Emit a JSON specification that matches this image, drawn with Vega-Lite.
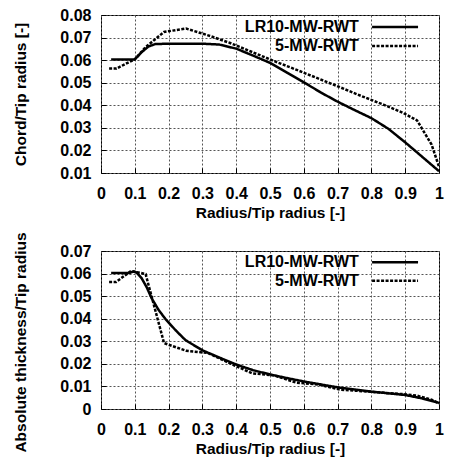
{
  "$schema": "https://vega.github.io/schema/vega-lite/v6.json",
  "padding": {"left": 13, "top": 6, "right": 3, "bottom": 5},
  "bounds": "flush",
  "spacing": 78,
  "datasets": {
    "chord": [
      {"r": 0.03, "v": 0.0603, "series": "LR10-MW-RWT"},
      {"r": 0.1, "v": 0.0603, "series": "LR10-MW-RWT"},
      {"r": 0.12, "v": 0.0635, "series": "LR10-MW-RWT"},
      {"r": 0.14, "v": 0.066, "series": "LR10-MW-RWT"},
      {"r": 0.16, "v": 0.0671, "series": "LR10-MW-RWT"},
      {"r": 0.2, "v": 0.0673, "series": "LR10-MW-RWT"},
      {"r": 0.3, "v": 0.0673, "series": "LR10-MW-RWT"},
      {"r": 0.35, "v": 0.0669, "series": "LR10-MW-RWT"},
      {"r": 0.4, "v": 0.0651, "series": "LR10-MW-RWT"},
      {"r": 0.45, "v": 0.062, "series": "LR10-MW-RWT"},
      {"r": 0.5, "v": 0.0588, "series": "LR10-MW-RWT"},
      {"r": 0.55, "v": 0.0545, "series": "LR10-MW-RWT"},
      {"r": 0.6, "v": 0.0502, "series": "LR10-MW-RWT"},
      {"r": 0.65, "v": 0.0457, "series": "LR10-MW-RWT"},
      {"r": 0.7, "v": 0.0416, "series": "LR10-MW-RWT"},
      {"r": 0.75, "v": 0.0379, "series": "LR10-MW-RWT"},
      {"r": 0.8, "v": 0.0343, "series": "LR10-MW-RWT"},
      {"r": 0.85, "v": 0.0296, "series": "LR10-MW-RWT"},
      {"r": 0.9, "v": 0.0236, "series": "LR10-MW-RWT"},
      {"r": 0.95, "v": 0.0172, "series": "LR10-MW-RWT"},
      {"r": 1.0, "v": 0.0108, "series": "LR10-MW-RWT"},
      {"r": 0.024, "v": 0.0563, "series": "5-MW-RWT"},
      {"r": 0.046, "v": 0.0563, "series": "5-MW-RWT"},
      {"r": 0.1, "v": 0.0604, "series": "5-MW-RWT"},
      {"r": 0.1323, "v": 0.0658, "series": "5-MW-RWT"},
      {"r": 0.1865, "v": 0.0725, "series": "5-MW-RWT"},
      {"r": 0.2516, "v": 0.074, "series": "5-MW-RWT"},
      {"r": 0.3167, "v": 0.071, "series": "5-MW-RWT"},
      {"r": 0.382, "v": 0.0676, "series": "5-MW-RWT"},
      {"r": 0.447, "v": 0.0636, "series": "5-MW-RWT"},
      {"r": 0.512, "v": 0.0596, "series": "5-MW-RWT"},
      {"r": 0.577, "v": 0.0558, "series": "5-MW-RWT"},
      {"r": 0.642, "v": 0.0519, "series": "5-MW-RWT"},
      {"r": 0.707, "v": 0.048, "series": "5-MW-RWT"},
      {"r": 0.772, "v": 0.044, "series": "5-MW-RWT"},
      {"r": 0.837, "v": 0.0402, "series": "5-MW-RWT"},
      {"r": 0.8915, "v": 0.0368, "series": "5-MW-RWT"},
      {"r": 0.935, "v": 0.0333, "series": "5-MW-RWT"},
      {"r": 0.978, "v": 0.0226, "series": "5-MW-RWT"},
      {"r": 1.0, "v": 0.0128, "series": "5-MW-RWT"}
    ],
    "thick": [
      {"r": 0.03, "v": 0.0603, "series": "LR10-MW-RWT"},
      {"r": 0.085, "v": 0.0603, "series": "LR10-MW-RWT"},
      {"r": 0.095, "v": 0.0609, "series": "LR10-MW-RWT"},
      {"r": 0.105, "v": 0.0605, "series": "LR10-MW-RWT"},
      {"r": 0.12, "v": 0.058, "series": "LR10-MW-RWT"},
      {"r": 0.135, "v": 0.054, "series": "LR10-MW-RWT"},
      {"r": 0.15, "v": 0.049, "series": "LR10-MW-RWT"},
      {"r": 0.17, "v": 0.044, "series": "LR10-MW-RWT"},
      {"r": 0.19, "v": 0.04, "series": "LR10-MW-RWT"},
      {"r": 0.22, "v": 0.035, "series": "LR10-MW-RWT"},
      {"r": 0.25, "v": 0.0305, "series": "LR10-MW-RWT"},
      {"r": 0.3, "v": 0.026, "series": "LR10-MW-RWT"},
      {"r": 0.35, "v": 0.0228, "series": "LR10-MW-RWT"},
      {"r": 0.4, "v": 0.0197, "series": "LR10-MW-RWT"},
      {"r": 0.45, "v": 0.0172, "series": "LR10-MW-RWT"},
      {"r": 0.5, "v": 0.0153, "series": "LR10-MW-RWT"},
      {"r": 0.55, "v": 0.0137, "series": "LR10-MW-RWT"},
      {"r": 0.6, "v": 0.0122, "series": "LR10-MW-RWT"},
      {"r": 0.7, "v": 0.0096, "series": "LR10-MW-RWT"},
      {"r": 0.8, "v": 0.0077, "series": "LR10-MW-RWT"},
      {"r": 0.9, "v": 0.0062, "series": "LR10-MW-RWT"},
      {"r": 0.95, "v": 0.0047, "series": "LR10-MW-RWT"},
      {"r": 1.0, "v": 0.0027, "series": "LR10-MW-RWT"},
      {"r": 0.024, "v": 0.0563, "series": "5-MW-RWT"},
      {"r": 0.045, "v": 0.0563, "series": "5-MW-RWT"},
      {"r": 0.089, "v": 0.0612, "series": "5-MW-RWT"},
      {"r": 0.132, "v": 0.0598, "series": "5-MW-RWT"},
      {"r": 0.1865, "v": 0.0292, "series": "5-MW-RWT"},
      {"r": 0.2516, "v": 0.0258, "series": "5-MW-RWT"},
      {"r": 0.3167, "v": 0.0248, "series": "5-MW-RWT"},
      {"r": 0.382, "v": 0.0202, "series": "5-MW-RWT"},
      {"r": 0.447, "v": 0.0158, "series": "5-MW-RWT"},
      {"r": 0.512, "v": 0.0149, "series": "5-MW-RWT"},
      {"r": 0.577, "v": 0.0117, "series": "5-MW-RWT"},
      {"r": 0.642, "v": 0.0109, "series": "5-MW-RWT"},
      {"r": 0.707, "v": 0.0086, "series": "5-MW-RWT"},
      {"r": 0.772, "v": 0.0079, "series": "5-MW-RWT"},
      {"r": 0.837, "v": 0.0072, "series": "5-MW-RWT"},
      {"r": 0.8915, "v": 0.0066, "series": "5-MW-RWT"},
      {"r": 0.935, "v": 0.0059, "series": "5-MW-RWT"},
      {"r": 0.978, "v": 0.0041, "series": "5-MW-RWT"},
      {"r": 1.0, "v": 0.0025, "series": "5-MW-RWT"}
    ]
  },
  "vconcat": [
    {
      "width": 338,
      "height": 158,
      "layer": [
        {
          "data": {"name": "chord"},
          "mark": {"type": "line", "strokeWidth": 2.5, "clip": true, "color": "#000000"},
          "encoding": {
            "x": {"field": "r", "type": "quantitative", "scale": {"domain": [0, 1], "nice": false},
                  "axis": {"title": "Radius/Tip radius [-]", "values": [0, 0.1, 0.2, 0.3, 0.4, 0.5, 0.6, 0.7, 0.8, 0.9, 1], "format": ".1~f"}},
            "y": {"field": "v", "type": "quantitative", "scale": {"domain": [0.01, 0.08], "nice": false, "zero": false},
                  "axis": {"title": "Chord/Tip radius [-]", "values": [0.01, 0.02, 0.03, 0.04, 0.05, 0.06, 0.07, 0.08], "format": ".2~f"}},
            "strokeDash": {"field": "series", "type": "nominal", "scale": {"domain": ["LR10-MW-RWT", "5-MW-RWT"], "range": [[1, 0], [3, 1.5]]}, "legend": null}
          }
        },
        {
          "data": {"values": [{}]},
          "mark": {"type": "text", "align": "right", "baseline": "middle", "font": "Liberation Sans", "fontWeight": "bold", "fontSize": 16, "color": "#000000"},
          "encoding": {
            "x": {"datum": 0.763, "type": "quantitative", "axis": {"title": "Radius/Tip radius [-]", "values": [0, 0.1, 0.2, 0.3, 0.4, 0.5, 0.6, 0.7, 0.8, 0.9, 1], "format": ".1~f"}},
            "y": {"datum": 0.0747, "type": "quantitative", "axis": {"title": "Chord/Tip radius [-]", "values": [0.01, 0.02, 0.03, 0.04, 0.05, 0.06, 0.07, 0.08], "format": ".2~f"}},
            "text": {"value": "LR10-MW-RWT"}
          }
        },
        {
          "data": {"values": [{}]},
          "mark": {"type": "text", "align": "right", "baseline": "middle", "font": "Liberation Sans", "fontWeight": "bold", "fontSize": 16, "color": "#000000"},
          "encoding": {
            "x": {"datum": 0.763, "type": "quantitative", "axis": {"title": "Radius/Tip radius [-]", "values": [0, 0.1, 0.2, 0.3, 0.4, 0.5, 0.6, 0.7, 0.8, 0.9, 1], "format": ".1~f"}},
            "y": {"datum": 0.0663, "type": "quantitative", "axis": {"title": "Chord/Tip radius [-]", "values": [0.01, 0.02, 0.03, 0.04, 0.05, 0.06, 0.07, 0.08], "format": ".2~f"}},
            "text": {"value": "5-MW-RWT"}
          }
        },
        {
          "data": {"values": [{}]},
          "mark": {"type": "rule", "strokeWidth": 2.5, "color": "#000000"},
          "encoding": {
            "x": {"datum": 0.802, "type": "quantitative", "axis": {"title": "Radius/Tip radius [-]", "values": [0, 0.1, 0.2, 0.3, 0.4, 0.5, 0.6, 0.7, 0.8, 0.9, 1], "format": ".1~f"}},
            "x2": {"datum": 0.938},
            "y": {"datum": 0.0747, "type": "quantitative", "axis": {"title": "Chord/Tip radius [-]", "values": [0.01, 0.02, 0.03, 0.04, 0.05, 0.06, 0.07, 0.08], "format": ".2~f"}}
          }
        },
        {
          "data": {"values": [{}]},
          "mark": {"type": "rule", "strokeWidth": 2.5, "color": "#000000", "strokeDash": [3, 1.5]},
          "encoding": {
            "x": {"datum": 0.802, "type": "quantitative", "axis": {"title": "Radius/Tip radius [-]", "values": [0, 0.1, 0.2, 0.3, 0.4, 0.5, 0.6, 0.7, 0.8, 0.9, 1], "format": ".1~f"}},
            "x2": {"datum": 0.938},
            "y": {"datum": 0.0663, "type": "quantitative", "axis": {"title": "Chord/Tip radius [-]", "values": [0.01, 0.02, 0.03, 0.04, 0.05, 0.06, 0.07, 0.08], "format": ".2~f"}}
          }
        }
      ]
    },
    {
      "width": 338,
      "height": 158,
      "layer": [
        {
          "data": {"name": "thick"},
          "mark": {"type": "line", "strokeWidth": 2.5, "clip": true, "color": "#000000"},
          "encoding": {
            "x": {"field": "r", "type": "quantitative", "scale": {"domain": [0, 1], "nice": false},
                  "axis": {"title": "Radius/Tip radius [-]", "values": [0, 0.1, 0.2, 0.3, 0.4, 0.5, 0.6, 0.7, 0.8, 0.9, 1], "format": ".1~f"}},
            "y": {"field": "v", "type": "quantitative", "scale": {"domain": [0, 0.07], "nice": false, "zero": false},
                  "axis": {"title": "Absolute thickness/Tip radius", "titleY": 91, "values": [0, 0.01, 0.02, 0.03, 0.04, 0.05, 0.06, 0.07], "format": ".2~f"}},
            "strokeDash": {"field": "series", "type": "nominal", "scale": {"domain": ["LR10-MW-RWT", "5-MW-RWT"], "range": [[1, 0], [3, 1.5]]}, "legend": null}
          }
        },
        {
          "data": {"values": [{}]},
          "mark": {"type": "text", "align": "right", "baseline": "middle", "font": "Liberation Sans", "fontWeight": "bold", "fontSize": 16, "color": "#000000"},
          "encoding": {
            "x": {"datum": 0.763, "type": "quantitative", "axis": {"title": "Radius/Tip radius [-]", "values": [0, 0.1, 0.2, 0.3, 0.4, 0.5, 0.6, 0.7, 0.8, 0.9, 1], "format": ".1~f"}},
            "y": {"datum": 0.065, "type": "quantitative", "axis": {"title": "Absolute thickness/Tip radius", "titleY": 91, "values": [0, 0.01, 0.02, 0.03, 0.04, 0.05, 0.06, 0.07], "format": ".2~f"}},
            "text": {"value": "LR10-MW-RWT"}
          }
        },
        {
          "data": {"values": [{}]},
          "mark": {"type": "text", "align": "right", "baseline": "middle", "font": "Liberation Sans", "fontWeight": "bold", "fontSize": 16, "color": "#000000"},
          "encoding": {
            "x": {"datum": 0.763, "type": "quantitative", "axis": {"title": "Radius/Tip radius [-]", "values": [0, 0.1, 0.2, 0.3, 0.4, 0.5, 0.6, 0.7, 0.8, 0.9, 1], "format": ".1~f"}},
            "y": {"datum": 0.0568, "type": "quantitative", "axis": {"title": "Absolute thickness/Tip radius", "titleY": 91, "values": [0, 0.01, 0.02, 0.03, 0.04, 0.05, 0.06, 0.07], "format": ".2~f"}},
            "text": {"value": "5-MW-RWT"}
          }
        },
        {
          "data": {"values": [{}]},
          "mark": {"type": "rule", "strokeWidth": 2.5, "color": "#000000"},
          "encoding": {
            "x": {"datum": 0.802, "type": "quantitative", "axis": {"title": "Radius/Tip radius [-]", "values": [0, 0.1, 0.2, 0.3, 0.4, 0.5, 0.6, 0.7, 0.8, 0.9, 1], "format": ".1~f"}},
            "x2": {"datum": 0.938},
            "y": {"datum": 0.065, "type": "quantitative", "axis": {"title": "Absolute thickness/Tip radius", "titleY": 91, "values": [0, 0.01, 0.02, 0.03, 0.04, 0.05, 0.06, 0.07], "format": ".2~f"}}
          }
        },
        {
          "data": {"values": [{}]},
          "mark": {"type": "rule", "strokeWidth": 2.5, "color": "#000000", "strokeDash": [3, 1.5]},
          "encoding": {
            "x": {"datum": 0.802, "type": "quantitative", "axis": {"title": "Radius/Tip radius [-]", "values": [0, 0.1, 0.2, 0.3, 0.4, 0.5, 0.6, 0.7, 0.8, 0.9, 1], "format": ".1~f"}},
            "x2": {"datum": 0.938},
            "y": {"datum": 0.0568, "type": "quantitative", "axis": {"title": "Absolute thickness/Tip radius", "titleY": 91, "values": [0, 0.01, 0.02, 0.03, 0.04, 0.05, 0.06, 0.07], "format": ".2~f"}}
          }
        }
      ]
    }
  ],
  "config": {
    "font": "Liberation Sans",
    "view": {"stroke": "#000000", "strokeWidth": 1},
    "axis": {
      "labelFont": "Liberation Sans", "labelFontWeight": "bold", "labelFontSize": 16, "labelColor": "#000000",
      "labelFlush": false, "labelOverlap": false,
      "titleFont": "Liberation Sans", "titleFontWeight": "bold", "titleFontSize": 15.5, "titleColor": "#000000",
      "domain": false, "ticks": true, "tickColor": "#000000", "tickSize": -5, "tickWidth": 1,
      "grid": true, "gridColor": "#555555", "gridDash": [2, 2], "gridWidth": 1, "gridOpacity": 1
    },
    "axisX": {"labelPadding": 17, "titlePadding": 4},
    "axisY": {"labelPadding": 15, "titlePadding": 31}
  }
}
